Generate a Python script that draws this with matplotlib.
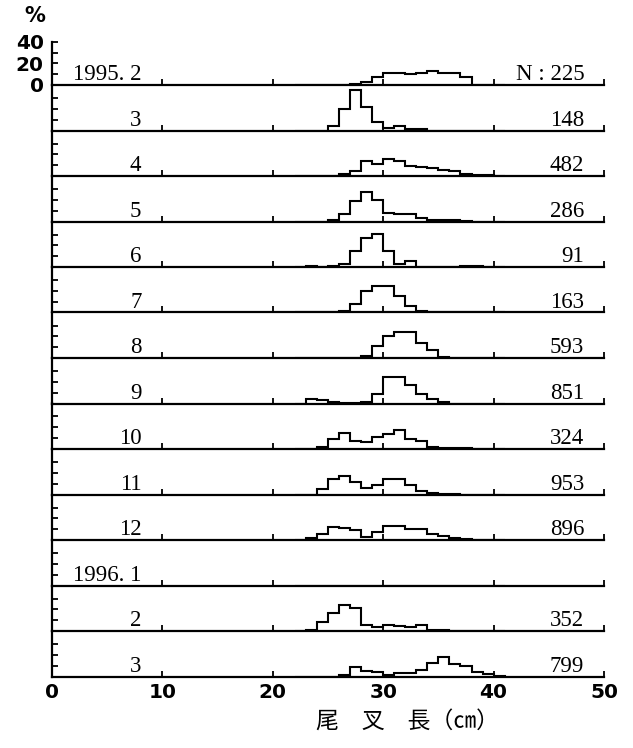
import matplotlib
matplotlib.use('Agg')
import matplotlib.pyplot as plt
import numpy as np

# 1 cm length classes 22..41 cm, values in % of catch per month
edges = np.arange(22, 42)

months = ['1995. 2', '3', '4', '5', '6', '7', '8', '9', '10', '11', '12',
          '1996. 1', '2', '3']
counts = ['N : 225', '148', '482', '286', '91', '163', '593', '851', '324',
          '953', '896', '', '352', '799']

#          22   23   24   25    26    27    28    29    30    31    32    33    34    35    36   37   38   39   40
feb95 = [0,   0,   0,   0.3,  0.3,  0.5,  2.8,  7.4,  11,   11,   9.8,  11,   13,   11.4, 10.8, 7.7, 0,   0,   0]
mar95 = [0,   0,   0,   3.7,  19.7, 37.5, 21.5, 7.4,  2.5,  4,    1.8,  1,    0,    0,    0,    0,   0,   0,   0]
apr95 = [0,   0,   0,   0,    1.5,  4.6,  13.5, 11.4, 16,   13.8, 8.9,  8,    7,    5.8,  4.6,  2.1, 1.2, 1.2, 0]
may95 = [0,   0,   0,   1.2,  7,    19,   27,   19.4, 7.7,  6.8,  6.8,  3,    1.5,  1.2,  1.5,  0.5, 0,   0,   0]
jun95 = [0,   0.5, 0.3, 0.5,  3,    15,   27,   30.8, 15,   3,    5.8,  0,    0,    0,    0,    0.5, 0.5, 0,   0]
jul95 = [0,   0,   0,   0,    1,    7.7,  20,   24.6, 24.6, 14.8, 6,    1,    0.5,  0.3,  0.5,  0.3, 0,   0,   0]
aug95 = [0,   0,   0,   0,    0,    0,    1.5,  10.8, 20.6, 24.3, 24.3, 13.5, 7.7,  0.6,  0,    0,   0,   0,   0]
sep95 = [0,   4,   3,   1,    0.3,  0.3,  1.5,  8.6,  24.6, 24.6, 17,   8.6,  4,    1,    0,    0,   0,   0,   0]
oct95 = [0,   0,   2,   9,    15,   7.7,  6,    10.8, 13.5, 17.5, 9,    7.4,  2,    1.2,  0.6,  0.6, 0,   0,   0]
nov95 = [0,   0,   5.5, 14,   17,   11.7, 6,    8.6,  14,   14,   9.2,  3.4,  1.5,  0.6,  0.3,  0,   0,   0,   0]
dec95 = [0,   1.5, 5.8, 12.3, 10.8, 9.2,  3,    7,    12.6, 12.9, 10.2, 10.2, 5.8,  4,    2.2,  0.6, 0,   0,   0]
jan96 = [0,   0,   0,   0,    0,    0,    0,    0,    0,    0,    0,    0,    0,    0,    0,    0,   0,   0,   0]
feb96 = [0,   0.6, 8.3, 17,   24,   21.5, 5.5,  3.7,  5.5,  4.6,  4,    5.5,  0.6,  0.9,  0,    0,   0,   0,   0]
mar96 = [0,   0,   0,   0,    1.8,  8.6,  5.5,  4,    1.8,  2.8,  3,    6,    12.6, 17.8, 11.7, 9.5, 4,   2.2, 0.9]

series = [feb95, mar95, apr95, may95, jun95, jul95, aug95, sep95, oct95,
          nov95, dec95, jan96, feb96, mar96]

W, H = 633, 748
fig = plt.figure(figsize=(W / 100, H / 100), dpi=100)

left_px, right_px = 52, 604
base0, step = 85, 45.5
serif = 'Liberation Serif'

for i, (lab, n, vals) in enumerate(zip(months, counts, series)):
    base = base0 + i * step
    ax = fig.add_axes([left_px / W, 1 - base / H, (right_px - left_px) / W, step / H])
    ax.set_xlim(0, 50)
    ax.set_ylim(0, 42)
    ax.patch.set_visible(False)
    ax.stairs(vals, edges, color='black', lw=1.5, baseline=0)
    for s in ['top', 'right']:
        ax.spines[s].set_visible(False)
    for s in ['left', 'bottom']:
        ax.spines[s].set_linewidth(1.6)
    ax.tick_params(direction='in', length=4.5, width=1.3, labelsize=14)
    ax.set_xticks([10, 20, 30, 40, 50])
    ax.set_xticklabels([])
    if i == 0:
        ax.spines['left'].set_bounds(0, 40)
        ax.set_yticks([0, 20, 40])
        ax.set_yticklabels(['0', '20', '40'], fontweight='bold', fontsize=14.5)
        ax.set_yticks([10, 30], minor=True)
        ax.tick_params(axis='y', which='minor', direction='in', length=4.5, width=1.3)
        ax.tick_params(axis='y', pad=6)
    else:
        ax.set_yticks([10, 20, 30])
        ax.set_yticklabels([])
    if i == len(months) - 1:
        ax.set_xticks([0, 10, 20, 30, 40, 50])
        ax.set_xticklabels(['0', '10', '20', '30', '40', '50'],
                           fontweight='bold', fontsize=14.5)
        ax.tick_params(axis='x', pad=5)
    ax.text(8.1, 4.3, lab, ha='right', va='baseline', fontsize=16.5, family=serif)
    if n:
        ax.text(48.2, 4.3, n, ha='right', va='baseline', fontsize=16.5, family=serif)

fig.text(35 / W, 1 - 16 / H, '%', ha='center', va='center',
         fontsize=15, fontweight='bold')
fig.text(316 / W, 1 - 721 / H, '尾\u3000叉\u3000長（㎝）', ha='left', va='center',
         fontsize=16.5, family=['Noto Sans CJK JP', 'DejaVu Sans'])

fig.savefig('out.png', dpi=100)
